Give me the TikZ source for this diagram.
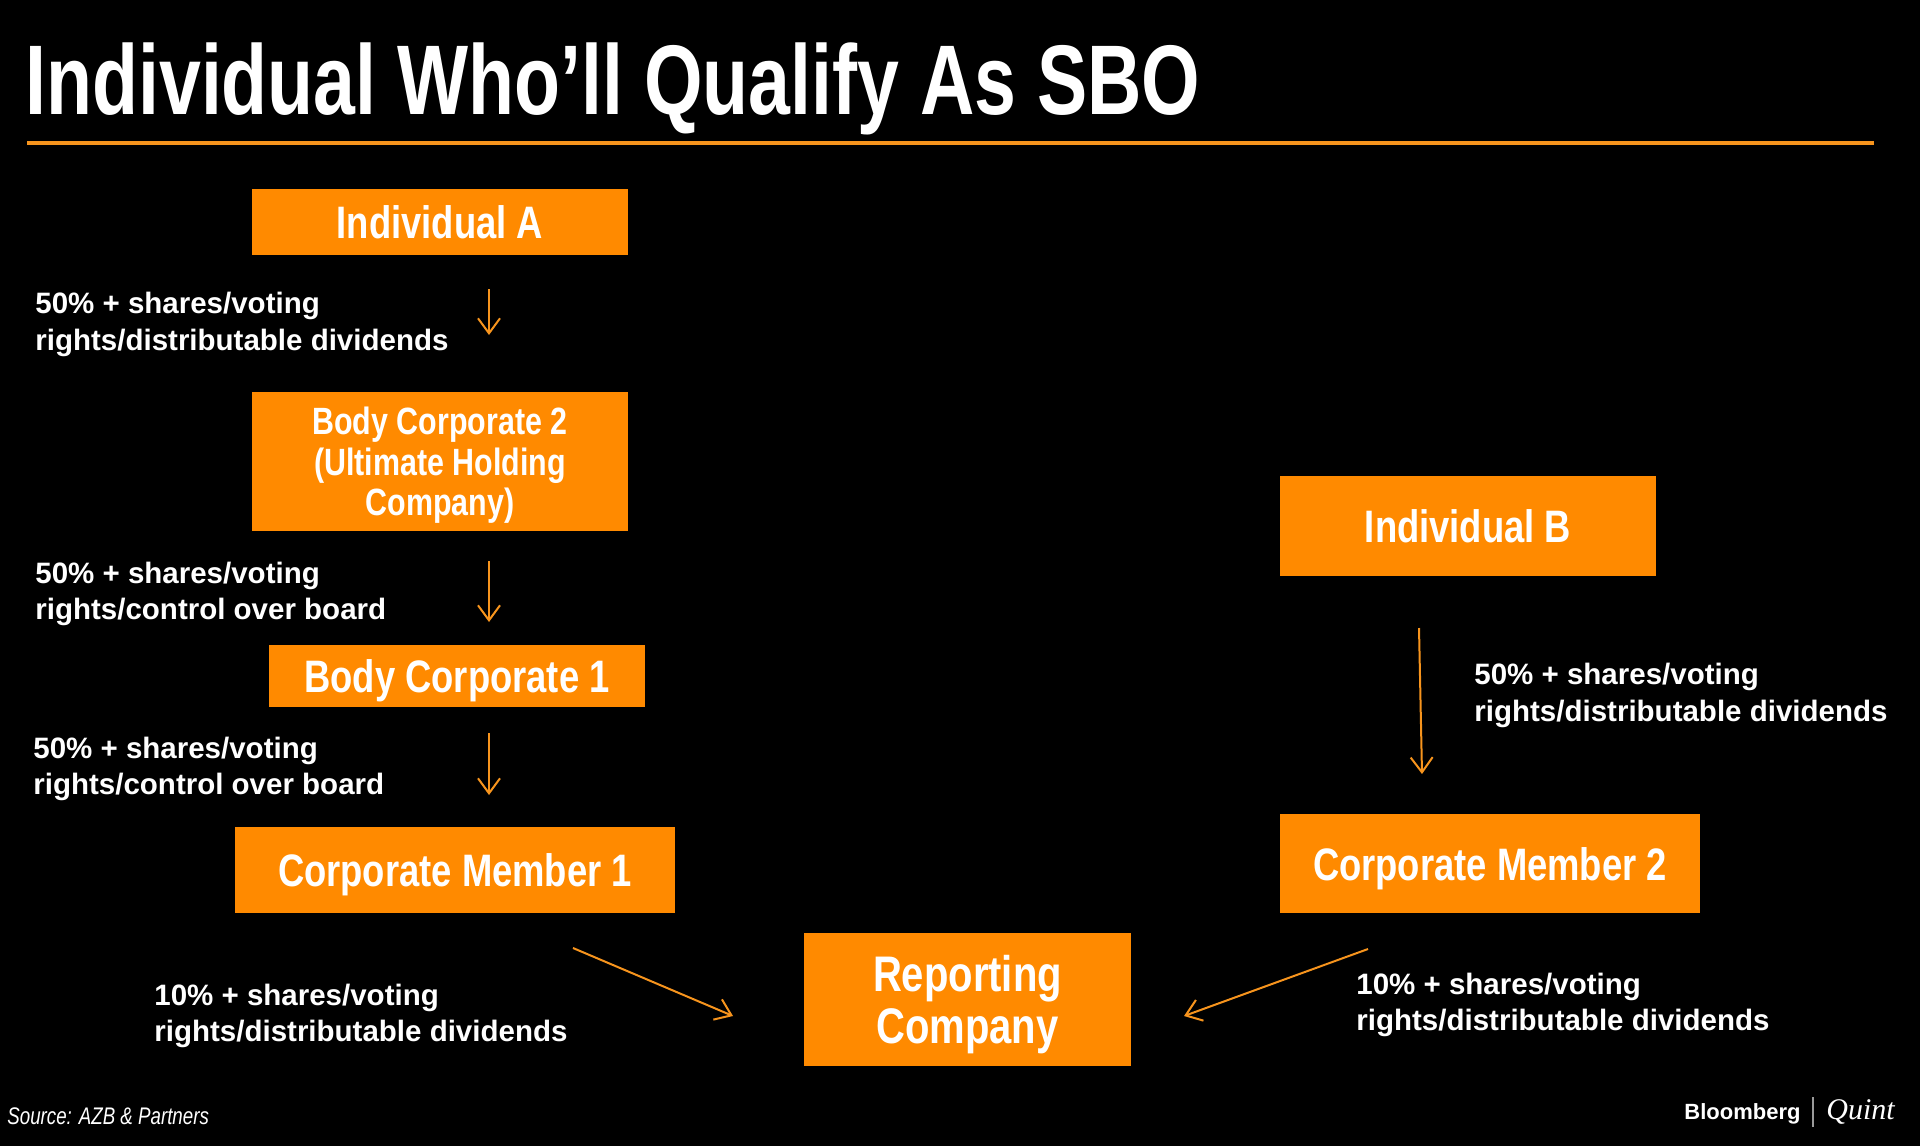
\documentclass[tikz,border=0pt]{standalone}
\usepackage{fontspec}
\usetikzlibrary{arrows.meta}
\setmainfont{Liberation Sans}
\newfontfamily\boxf[FakeStretch=0.8]{Liberation Sans}
\newfontfamily\titlef[FakeStretch=0.76]{Liberation Sans}
\newfontfamily\srcf[FakeStretch=0.78]{Liberation Sans}
\newfontfamily\qf{Liberation Serif}
\definecolor{boxor}{HTML}{FF8A00}
\definecolor{lineor}{HTML}{F7941D}
\definecolor{sepgray}{HTML}{9A9A9A}
\newcommand\twol[2]{\begin{tabular}[t]{@{}l@{}}#1\\#2\end{tabular}}
\begin{document}
\begin{tikzpicture}[x=0.5pt,y=-0.5pt,
  box/.style={fill=boxor, draw=none, text=white, inner sep=0pt, align=center,
    text depth=0pt, font=\boxf\bfseries\fontsize{22.75}{24}\selectfont},
  lab/.style={text=white, inner sep=0pt, anchor=base west,
    font=\bfseries\fontsize{14.75}{18.35}\selectfont},
  flow/.style={draw=lineor, line width=1pt,
    -{Straight Barb[length=7.5pt,width=11pt,line width=1pt]}}]
\fill[black] (0,0) rectangle (1920,1146);
\useasboundingbox (0,0) rectangle (1920,1146);

% title
\node[anchor=base west, inner sep=0pt, text=white,
  font=\titlef\bfseries\fontsize{49.5}{50}\selectfont] (title) at (25,114) {Individual Who’ll Qualify As SBO};
\coordinate (rulel) at (27,143);
\coordinate (ruler) at (1874,143);
\draw[lineor, line width=2pt] (rulel) -- (ruler);

% boxes
\node[box, minimum width=188pt, minimum height=33pt] (ia) at (440,222) {Individual A};
\node[box, minimum width=188pt, minimum height=69.5pt,
  font=\boxf\bfseries\fontsize{19}{20.2}\selectfont] (bc2) at (440,461.5) {Body Corporate 2\\(Ultimate Holding\\Company)};
\node[box, minimum width=188pt, minimum height=31pt] (bc1) at (457,676) {Body Corporate 1};
\node[box, minimum width=220pt, minimum height=43pt] (cm1) at (455,870) {Corporate Member 1};
\node[box, minimum width=163.5pt, minimum height=66.5pt,
  font=\boxf\bfseries\fontsize{25}{26}\selectfont] (rc) at (967.5,999.5) {Reporting\\Company};
\node[box, minimum width=188pt, minimum height=50pt] (ib) at (1468,526) {Individual B};
\node[box, minimum width=210pt, minimum height=49.5pt] (cm2) at (1490,863.5) {Corporate Member 2};

% arrows
\coordinate (a1s) at (489,289);  \coordinate (a1e) at (489,335);
\coordinate (a2s) at (489,561);  \coordinate (a2e) at (489,622);
\coordinate (a3s) at (489,733);  \coordinate (a3e) at (489,795);
\coordinate (a4s) at (1419,628); \coordinate (a4e) at (1422,774);
\coordinate (a5s) at (573,948);  \coordinate (a5e) at (733,1016);
\coordinate (a6s) at (1368,949); \coordinate (a6e) at (1184,1016);
\draw[flow] (a1s) -- (a1e);
\draw[flow] (a2s) -- (a2e);
\draw[flow] (a3s) -- (a3e);
\draw[flow] (a4s) -- (a4e);
\draw[flow] (a5s) -- (a5e);
\draw[flow] (a6s) -- (a6e);

% labels
\node[lab] (l1) at (35,313.5) {\twol{50\% + shares/voting}{rights/distributable dividends}};
\node[lab] (l2) at (35,583) {\twol{50\% + shares/voting}{rights/control over board}};
\node[lab] (l3) at (33,758) {\twol{50\% + shares/voting}{rights/control over board}};
\node[lab] (l4) at (1474,684.5) {\twol{50\% + shares/voting}{rights/distributable dividends}};
\node[lab] (l5) at (154,1005) {\twol{10\% + shares/voting}{rights/distributable dividends}};
\node[lab] (l6) at (1356,994) {\twol{10\% + shares/voting}{rights/distributable dividends}};

% footer
\node[anchor=base west, inner sep=0pt, text=white,
  font=\srcf\itshape\fontsize{12}{14}\selectfont] (src) at (7,1124) {Source: AZB \& Partners};
\node[anchor=base west, inner sep=0pt, text=white,
  font=\bfseries\fontsize{11}{13}\selectfont] (bb) at (1684,1119) {Bloomberg};
\coordinate (sept) at (1813,1097);
\coordinate (sepb) at (1813,1127);
\draw[sepgray, line width=0.6pt] (sept) -- (sepb);
\node[anchor=base west, inner sep=0pt, text=white,
  font=\qf\itshape\fontsize{15}{17}\selectfont] (qt) at (1826,1119) {Quint};
\end{tikzpicture}
\end{document}
